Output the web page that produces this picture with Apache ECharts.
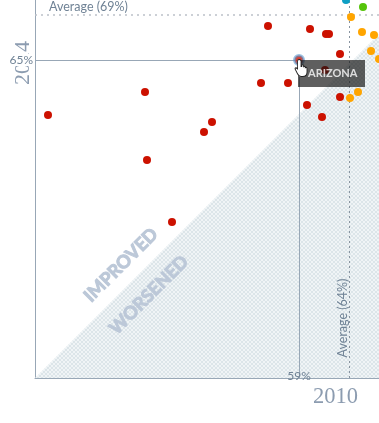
<!DOCTYPE html>
<html>
<head>
<meta charset="utf-8">
<script src="https://cdn.jsdelivr.net/npm/echarts@6/dist/echarts.min.js"></script>
<style>
html, body { margin: 0; padding: 0; background: #fff; }
#chart { width: 379px; height: 423px; }
</style>
</head>
<body>
<div id="chart"></div>
<script>
// percent in 2010, percent in 2014
var redPoints = [
    [33.9, 59.5], [43.6, 61.8], [43.8, 55.0], [46.3, 48.8], [49.5, 57.8], [50.3, 58.8],
    [55.9, 68.4], [55.2, 62.7], [57.9, 62.7], [60.1, 68.1], [61.7, 67.6], [62.0, 67.6],
    [63.1, 65.6], [61.6, 64.0], [59.8, 60.5], [61.3, 59.3], [63.1, 61.3]
];
var orangePoints = [
    [64.2, 69.3], [65.3, 67.8], [66.5, 67.5], [66.2, 65.9], [67.0, 65.1], [64.9, 61.8], [64.1, 61.2]
];
var tealPoints = [[63.7, 71.0]];
var greenPoints = [[65.4, 70.3]];
var selectedPoint = [59, 65];
var selectedName = 'ARIZONA';
var avgX = 64;   // drawn on the chart as Average (64%)
var avgY = 69.5; // drawn on the chart as Average (69%)
var xRange = [32.6, 67];
var yRange = [33.2, 71];
// worsened side of the no-change diagonal
var worsenedArea = [[32.6, 33.2], [67, 67.6], [67, 33.2]];

function hatch() {
    var c = document.createElement('canvas');
    c.width = 4;
    c.height = 4;
    var ctx = c.getContext('2d');
    ctx.fillStyle = '#f0f4f6';
    ctx.fillRect(0, 0, 4, 4);
    ctx.strokeStyle = '#dce5e9';
    ctx.lineWidth = 1;
    ctx.beginPath();
    ctx.moveTo(0, 0); ctx.lineTo(4, 4);
    ctx.moveTo(4, 0); ctx.lineTo(0, 4);
    ctx.stroke();
    return c;
}

var lineColor = '#98a7b6';
var textColor = '#6f8295';
var nameColor = '#8c9cb0';
var stampColor = '#bcc8d8';

function dots(name, points, color) {
    return {
        name: name,
        type: 'scatter',
        data: points,
        symbolSize: 8,
        clip: false,
        z: 5,
        itemStyle: { color: color, opacity: 1 }
    };
}

function plainText(text, size, fill, weight, align) {
    return {
        text: text,
        fontFamily: 'Lato',
        fontSize: size,
        fontWeight: weight || 'normal',
        fill: fill,
        textAlign: align || 'center',
        textVerticalAlign: 'middle'
    };
}

function stampText(text) {
    var s = plainText(text, 18, stampColor, 'bold');
    s.stroke = stampColor;
    s.lineWidth = 1;
    return s;
}

var option = {
    animation: false,
    grid: { left: 35, right: 0, top: 0, height: 378 },
    xAxis: {
        type: 'value',
        min: xRange[0],
        max: xRange[1],
        axisLine: { show: true, lineStyle: { color: lineColor, width: 1 } },
        axisTick: { show: false },
        axisLabel: { show: false },
        splitLine: { show: false }
    },
    yAxis: {
        type: 'value',
        min: yRange[0],
        max: yRange[1],
        axisLine: { show: true, lineStyle: { color: lineColor, width: 1 } },
        axisTick: { show: false },
        axisLabel: { show: false },
        splitLine: { show: false }
    },
    graphic: [
        { type: 'text', x: 23, y: 63, rotation: Math.PI / 2, z: 0,
          style: { text: '2014', font: '22px "Liberation Serif"', fill: nameColor, textAlign: 'center', textVerticalAlign: 'middle' } },
        { type: 'text', x: 335.5, y: 397, z: 0,
          style: { text: '2010', font: '22.5px "Liberation Serif"', fill: nameColor, textAlign: 'center', textVerticalAlign: 'middle' } },
        { type: 'text', x: 49, y: 7, z: 10,
          style: plainText('Average (' + Math.floor(avgY) + '%)', 12.5, textColor, 'normal', 'left') },
        { type: 'text', x: 343, y: 318, rotation: Math.PI / 2, z: 10,
          style: plainText('Average (' + avgX + '%)', 12.5, textColor) },
        { type: 'text', x: 121, y: 265, rotation: Math.PI / 4, z: 10,
          style: stampText('IMPROVED') },
        { type: 'text', x: 149, y: 295, rotation: Math.PI / 4, z: 10,
          style: stampText('WORSENED') }
    ],
    series: [
        {
            name: 'worsened',
            type: 'custom',
            silent: true,
            z: 1,
            data: worsenedArea,
            renderItem: function (params, api) {
                if (params.dataIndex !== 0) return;
                var pts = worsenedArea.map(function (p) { return api.coord(p); });
                return {
                    type: 'polygon',
                    shape: { points: pts },
                    style: { fill: { image: hatch(), repeat: 'repeat' } }
                };
            }
        },
        {
            name: 'lines',
            type: 'scatter',
            data: [],
            z: 3,
            markLine: {
                silent: true,
                symbol: 'none',
                animation: false,
                data: [
                    [{ coord: [xRange[0], avgY], lineStyle: { color: '#bcc1c9', type: [2, 4], width: 1.5 }, label: { show: false } },
                     { coord: [xRange[1], avgY] }],
                    [{ coord: [avgX, yRange[0]], lineStyle: { color: '#87939f', type: [2, 3], width: 1 }, label: { show: false } },
                     { coord: [avgX, yRange[1]] }],
                    [{ coord: [xRange[0], selectedPoint[1]], lineStyle: { color: lineColor, type: 'solid', width: 1 },
                       label: { show: true, position: 'start', formatter: selectedPoint[1] + '%', color: textColor, fontFamily: 'Lato', fontSize: 12, backgroundColor: '#fff', distance: 2, padding: [0, 0, 0, 0] } },
                     { coord: selectedPoint }],
                    [{ coord: [selectedPoint[0], yRange[0]], lineStyle: { color: lineColor, type: 'solid', width: 1 },
                       label: { show: true, position: 'start', formatter: selectedPoint[0] + '%', color: textColor, fontFamily: 'Lato', fontSize: 12, distance: -8 } },
                     { coord: selectedPoint }]
                ]
            }
        },
        dots('red', redPoints, '#cc1100'),
        dots('orange', orangePoints, '#ffa500'),
        dots('teal', tealPoints, '#0e9fc4'),
        dots('green', greenPoints, '#55c40a'),
        {
            name: 'selected',
            type: 'scatter',
            z: 6,
            symbolSize: 9,
            data: [{
                value: selectedPoint,
                itemStyle: { color: '#cc1100', borderColor: 'rgba(84,150,205,0.75)', borderWidth: 3 },
                label: {
                    show: true,
                    formatter: selectedName,
                    position: [5, 6],
                    width: 57,
                    height: 27,
                    lineHeight: 27,
                    padding: [0, 0, 0, 10],
                    align: 'left',
                    color: '#fff',
                    fontFamily: 'Lato',
                    fontWeight: 'bold',
                    fontSize: 11,
                    backgroundColor: 'rgba(20,20,20,0.85)'
                }
            }]
        },
        {
            // pointer sitting over the hovered dot
            name: 'pointer',
            type: 'scatter',
            z: 20,
            silent: true,
            data: [selectedPoint],
            symbol: 'path://M5 0C6 0 7 1 7 2L7 8L8 8L8 6.5C9 6 10 6 10 7.5L10 8.5C11 8 12 8 12 9.5C13 9 14 9.5 14 11L14 15C14 18 12 20 9 20L7 20C5 20 4 19 3 17L0 11C0 9.5 1.5 9.5 3 11L3 2C3 1 4 0 5 0Z',
            symbolSize: [12, 17],
            symbolOffset: [2, 8],
            itemStyle: { color: '#fff', borderColor: '#222', borderWidth: 1, opacity: 1 }
        }
    ]
};

var myChart = echarts.init(document.getElementById('chart'));
myChart.setOption(option);
</script>
</body>
</html>
